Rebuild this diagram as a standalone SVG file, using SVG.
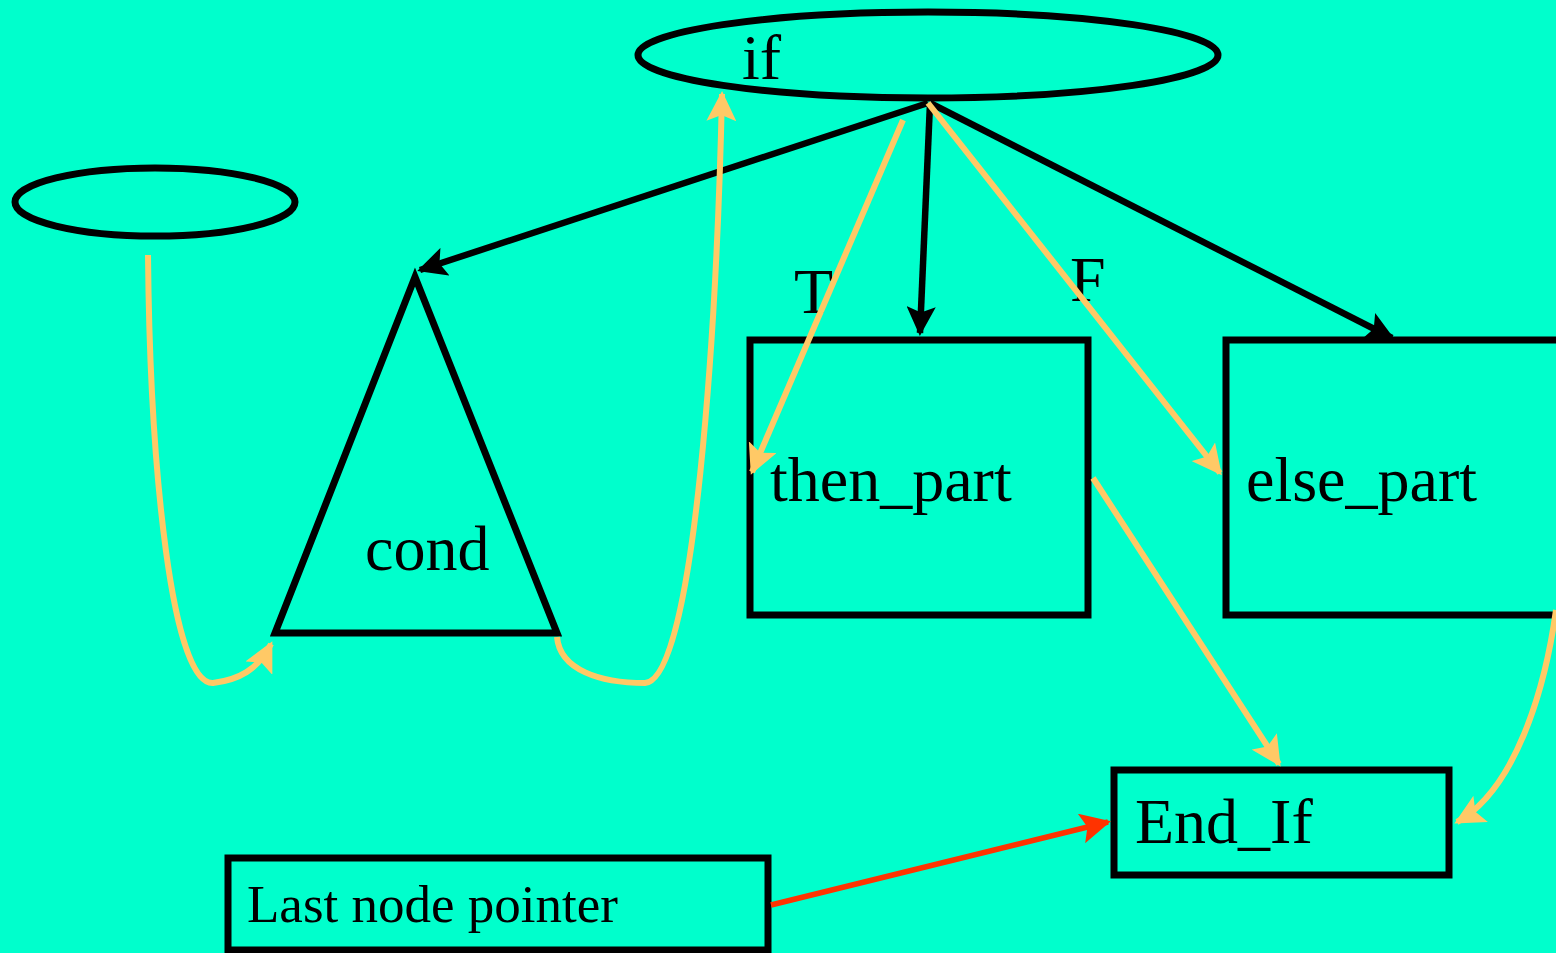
<svg xmlns="http://www.w3.org/2000/svg" width="1556" height="953" viewBox="0 0 1556 953">
<defs>
<marker id="ab" viewBox="0 0 10 10" refX="9" refY="5" markerWidth="4.5" markerHeight="4.5" markerUnits="strokeWidth" orient="auto"><path d="M0,0 L10,5 L0,10 L2,5 z" fill="#000"/></marker>
<marker id="ao" viewBox="0 0 10 10" refX="9" refY="5" markerWidth="5" markerHeight="5" markerUnits="strokeWidth" orient="auto"><path d="M0,0 L10,5 L0,10 L2,5 z" fill="#FFC966"/></marker>
<marker id="ar" viewBox="0 0 10 10" refX="9" refY="5" markerWidth="5.5" markerHeight="5.5" markerUnits="strokeWidth" orient="auto"><path d="M0,0 L10,5 L0,10 L2,5 z" fill="#FF3300"/></marker>
</defs>
<style>
.shape{fill:none;stroke:#000;stroke-width:7}
.t{font-family:"Liberation Serif",serif;fill:#000}
.blk{fill:none;stroke:#000;stroke-width:6.5;marker-end:url(#ab)}
.org{fill:none;stroke:#FFC966;stroke-width:6;marker-end:url(#ao)}
.red{fill:none;stroke:#FF3300;stroke-width:5.5;marker-end:url(#ar)}
</style>
<rect width="1556" height="953" fill="#00FFCC"/>
<g id="if"><ellipse class="shape" cx="928" cy="55" rx="290" ry="43"/><text class="t" x="742" y="79" font-size="64">if</text></g>
<g id="start"><ellipse class="shape" cx="155" cy="202" rx="140" ry="34"/></g>
<g id="cond"><polygon class="shape" points="415,277 275,633 557,633"/><text class="t" x="365" y="570" font-size="64">cond</text></g>
<g id="then"><rect class="shape" x="750" y="340" width="338" height="275"/><text class="t" x="770" y="501" font-size="64">then_part</text></g>
<g id="else"><rect class="shape" x="1226" y="340" width="340" height="275"/><text class="t" x="1246" y="501" font-size="64">else_part</text></g>
<g id="endif"><rect class="shape" x="1114" y="770" width="335" height="105"/><text class="t" x="1135" y="843" font-size="64">End_If</text></g>
<g id="last"><rect class="shape" x="228" y="858" width="540" height="92"/><text class="t" x="247" y="922" font-size="53">Last node pointer</text></g>
<g id="labels"><text class="t" x="794" y="313" font-size="64">T</text><text class="t" x="1070" y="301" font-size="64">F</text></g>
<g id="connectors">
<line class="blk" x1="928" y1="103" x2="420" y2="270"/>
<line class="blk" x1="930" y1="103" x2="920" y2="333"/>
<line class="blk" x1="930" y1="103" x2="1392" y2="338"/>
<line class="org" x1="903" y1="120" x2="752" y2="472"/>
<line class="org" x1="928" y1="103" x2="1220" y2="473"/>
<line class="org" x1="1093" y1="478" x2="1279" y2="764"/>
<path class="org" d="M1556,610 C1545,690 1515,790 1457,822"/>
<path class="org" d="M148,255 C150,470 172,685 213,683 C238,680 258,670 271,644"/>
<path class="org" d="M557,637 C560,670 600,683 645,683 C695,680 717,320 722,94"/>
<line class="red" x1="771" y1="905" x2="1108" y2="822"/>
</g>
</svg>
